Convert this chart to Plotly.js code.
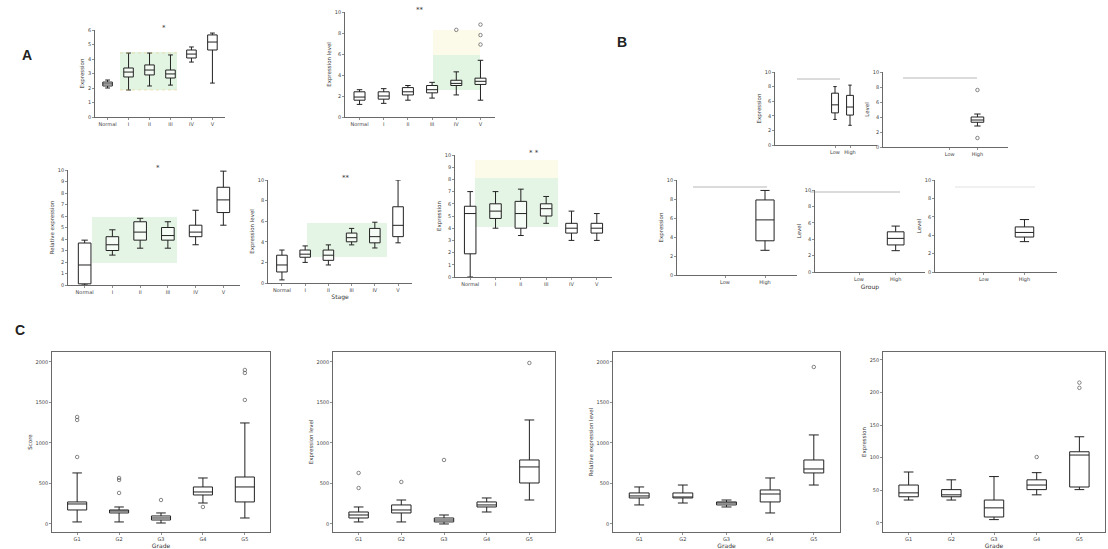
<!DOCTYPE html>
<html><head><meta charset="utf-8">
<script src="https://cdn.plot.ly/plotly-3.0.1.min.js"></script>
<style>html,body{margin:0;padding:0;background:#fff}#chart{width:1108px;height:549px}</style>
</head><body><div id="chart"></div>
<script>
// ---------- DATA ----------
const A_cats = ['Normal','I','II','III','IV','V'];
const A1_q1 = [2.14,2.76,2.90,2.69,4.07,4.62];
const A1_med = [2.28,3.10,3.24,2.97,4.34,5.17];
const A1_q3 = [2.41,3.38,3.59,3.24,4.62,5.66];
const A1_lo = [2.00,1.86,2.14,2.20,3.79,2.34];
const A1_hi = [2.55,4.41,4.41,4.28,4.83,5.79];

const A2_q1 = [1.6,1.7,2.1,2.3,3.0,3.1];
const A2_med = [1.9,2.0,2.4,2.6,3.2,3.4];
const A2_q3 = [2.4,2.4,2.8,3.0,3.5,3.7];
const A2_lo = [1.2,1.3,1.6,1.8,2.1,1.6];
const A2_hi = [2.6,2.7,3.0,3.3,4.3,5.4];
const A2_outCat = ['IV','V','V','V'];
const A2_outVal = [8.3,8.8,7.8,6.9];

const A3_q1 = [0.1,3.0,3.9,3.9,4.2,6.3];
const A3_med = [1.74,3.5,4.6,4.3,4.6,7.4];
const A3_q3 = [3.65,4.2,5.5,5.0,5.2,8.5];
const A3_lo = [0.0,2.6,3.2,3.2,3.5,5.2];
const A3_hi = [3.9,4.8,5.8,5.5,6.5,9.9];

const A4_q1 = [1.07,2.5,2.2,4.0,3.9,4.5];
const A4_med = [1.75,2.8,2.7,4.4,4.5,5.6];
const A4_q3 = [2.7,3.2,3.2,4.85,5.3,7.4];
const A4_lo = [0.3,2.0,1.75,3.7,3.4,3.9];
const A4_hi = [3.2,3.6,3.7,5.3,5.9,10.0];

const A5_q1 = [1.9,4.8,4.0,5.0,3.6,3.6];
const A5_med = [5.2,5.4,5.2,5.6,4.0,4.0];
const A5_q3 = [5.8,6.0,6.2,6.0,4.4,4.4];
const A5_lo = [0.0,4.0,3.4,4.4,3.0,3.0];
const A5_hi = [7.0,7.0,7.2,6.6,5.4,5.2];

const B1_cats = ['Low','High'];
const B1_q1 = [4.4,4.1]; const B1_med = [5.5,5.2]; const B1_q3 = [7.1,6.8];
const B1_lo = [3.5,2.7]; const B1_hi = [8.0,8.2];

const B2_cats = ['Low','High'];
const B2_boxCat = ['High'];
const B2_q1 = [3.3]; const B2_med = [3.6]; const B2_q3 = [4.0];
const B2_lo = [2.8]; const B2_hi = [4.4];
const B2_outCat = ['High','High']; const B2_outVal = [7.6,1.2];

const B3_cats = ['Low','High'];
const B3_boxCat = ['High'];
const B3_q1 = [3.6]; const B3_med = [5.8]; const B3_q3 = [7.9]; const B3_lo = [2.6]; const B3_hi = [8.9];
const B4_boxCat = ['High'];
const B4_q1 = [3.3]; const B4_med = [4.1]; const B4_q3 = [4.9]; const B4_lo = [2.6]; const B4_hi = [5.6];
const B5_boxCat = ['High'];
const B5_q1 = [3.8]; const B5_med = [4.3]; const B5_q3 = [4.9]; const B5_lo = [3.3]; const B5_hi = [5.7];

const C_cats = ['G1','G2','G3','G4','G5'];
const C1_q1 = [173,136,49,358,272];
const C1_med = [247,160,74,395,457];
const C1_q3 = [272,173,99,457,580];
const C1_lo = [25,25,12,259,74];
const C1_hi = [630,210,136,568,1247];
const C1_outCat = ['G1','G1','G1','G2','G2','G2','G3','G4','G5','G5','G5'];
const C1_outVal = [1321,1284,827,383,543,568,296,210,1531,1901,1864];

const C2_q1 = [74,136,25,210,506];
const C2_med = [111,173,49,235,704];
const C2_q3 = [148,235,74,272,790];
const C2_lo = [25,25,0,148,296];
const C2_hi = [210,296,111,321,1284];
const C2_outCat = ['G1','G1','G2','G3','G5'];
const C2_outVal = [444,630,519,790,1988];

const C3_q1 = [321,321,235,272,630];
const C3_med = [346,333,259,370,679];
const C3_q3 = [383,383,272,420,790];
const C3_lo = [235,259,210,136,481];
const C3_hi = [457,481,296,568,1099];
const C3_outCat = ['G5'];
const C3_outVal = [1938];

const C4_q1 = [40,40,9,51,55];
const C4_med = [46,43,23,58,104];
const C4_q3 = [58,51,35,66,109];
const C4_lo = [35,35,5,43,51];
const C4_hi = [78,66,71,77,132];
const C4_outCat = ['G4','G5','G5'];
const C4_outVal = [101,215,207];

// ---------- BUILD ----------
const W = 1108, H = 549;
const fx = p => p / W, fy = p => 1 - p / H;
const traces = [], layout = {
  width: W, height: H, margin: {l:0,r:0,t:0,b:0}, showlegend: false,
  paper_bgcolor: '#fff', plot_bgcolor: 'rgba(0,0,0,0)',
  font: {family: 'DejaVu Sans, Arial, sans-serif', size: 5, color: '#444'},
  boxgap: 0.35, shapes: [], annotations: []
};
let n = 0;
function panel(p) {
  n++;
  const xa = n === 1 ? 'x' : 'x' + n, ya = n === 1 ? 'y' : 'y' + n;
  const xk = n === 1 ? 'xaxis' : 'xaxis' + n, yk = n === 1 ? 'yaxis' : 'yaxis' + n;
  traces.push({
    type: 'box', xaxis: xa, yaxis: ya, x: p.bx || p.cats,
    q1: p.q1, median: p.med, q3: p.q3, lowerfence: p.lo, upperfence: p.hi,
    boxpoints: false, fillcolor: 'rgba(255,255,255,0.6)',
    line: {color: '#222', width: 1}, whiskerwidth: 0.5, hoverinfo: 'skip'
  });
  if (p.ox) traces.push({
    type: 'scatter', mode: 'markers', xaxis: xa, yaxis: ya, x: p.ox, y: p.oy,
    marker: {symbol: 'circle-open', size: 3.5, color: '#555', line: {width: 0.7}}, hoverinfo: 'skip'
  });
  const common = {showgrid: false, zeroline: false, showline: true, linecolor: '#444', linewidth: 0.8,
    ticks: 'outside', ticklen: 2, tickwidth: 0.6, tickcolor: '#444', mirror: !!p.frame,
    tickfont: {size: 5, color: '#444'}};
  layout[xk] = Object.assign({}, common, {domain: [fx(p.x0), fx(p.x1)], anchor: ya,
    type: 'category', categoryorder: 'array', categoryarray: p.cats,
    range: p.xr || [-0.6, p.cats.length - 0.4],
    title: {text: p.xt || '', font: {size: 6, color: '#333'}, standoff: 2}});
  layout[yk] = Object.assign({}, common, {domain: [fy(p.y1), fy(p.y0)], anchor: xa,
    range: p.yr, dtick: p.dt,
    title: {text: p.yt || '', font: {size: 5.5, color: '#333'}, standoff: 2}});
  if (p.sig) layout.annotations.push({xref: 'paper', yref: 'paper', x: fx((p.x0 + p.x1) / 2),
    y: fy(p.y0 - 8), text: p.sig, showarrow: false, font: {size: 7, color: '#333'}});
}
function rect(x0, y0, x1, y1, c) {
  layout.shapes.push({type: 'rect', xref: 'paper', yref: 'paper', x0: fx(x0), x1: fx(x1),
    y0: fy(y1), y1: fy(y0), fillcolor: c, line: {width: 0}, layer: 'below'});
}
function line(x0, y0, x1, y1, c, dash) {
  layout.shapes.push({type: 'line', xref: 'paper', yref: 'paper', x0: fx(x0), x1: fx(x1),
    y0: fy(y0), y1: fy(y1), line: {color: c || '#888', width: 0.6, dash: dash || 'solid'}});
}

// decorations (shaded regions)
rect(120, 52, 177, 90, 'rgba(190,230,190,0.45)');
line(120, 53, 177, 53, 'rgba(230,200,120,0.8)', 'dot');
line(120, 90, 177, 90, 'rgba(230,200,120,0.8)', 'dot');
rect(433, 55, 480, 90, 'rgba(190,230,190,0.45)');
rect(433, 30, 480, 55, 'rgba(250,245,210,0.5)');
rect(92, 217, 177, 263, 'rgba(190,230,190,0.4)');
rect(307, 223, 387, 257, 'rgba(190,230,190,0.4)');
rect(475, 178, 558, 227, 'rgba(190,230,190,0.4)');
rect(475, 160, 558, 178, 'rgba(250,245,210,0.5)');

// Panel A
panel({x0: 95, x1: 225, y0: 30, y1: 117, cats: A_cats, q1: A1_q1, med: A1_med, q3: A1_q3, lo: A1_lo, hi: A1_hi,
  yr: [0, 6], dt: 1, yt: 'Expression', sig: '*'});
panel({x0: 345, x1: 495, y0: 12, y1: 117, cats: A_cats, q1: A2_q1, med: A2_med, q3: A2_q3, lo: A2_lo, hi: A2_hi,
  ox: A2_outCat, oy: A2_outVal, yr: [0, 10], dt: 2, yt: 'Expression level', sig: '**'});
panel({x0: 68, x1: 240, y0: 170, y1: 285, cats: A_cats, q1: A3_q1, med: A3_med, q3: A3_q3, lo: A3_lo, hi: A3_hi,
  yr: [0, 10], dt: 1, yt: 'Relative expression', sig: '*'});
panel({x0: 268, x1: 412, y0: 180, y1: 283, cats: A_cats, q1: A4_q1, med: A4_med, q3: A4_q3, lo: A4_lo, hi: A4_hi,
  yr: [0, 10], dt: 2, yt: 'Expression level', xt: 'Stage', sig: '**'});
panel({x0: 455, x1: 612, y0: 155, y1: 277, cats: A_cats, q1: A5_q1, med: A5_med, q3: A5_q3, lo: A5_lo, hi: A5_hi,
  yr: [0, 10], dt: 1, yt: 'Expression', sig: '* *'});

// Panel B
panel({x0: 775, x1: 877, y0: 72, y1: 145, cats: B1_cats, q1: B1_q1, med: B1_med, q3: B1_q3, lo: B1_lo, hi: B1_hi,
  xr: [-4, 2.8], yr: [0, 10], dt: 2, yt: 'Expression'});
panel({x0: 883, x1: 1008, y0: 72, y1: 147, cats: B2_cats, bx: B2_boxCat, q1: B2_q1, med: B2_med, q3: B2_q3, lo: B2_lo, hi: B2_hi,
  ox: B2_outCat, oy: B2_outVal, xr: [-2.4, 2.1], yr: [0, 10], dt: 2, yt: 'Level'});
panel({x0: 677, x1: 797, y0: 180, y1: 275, cats: B3_cats, bx: B3_boxCat, q1: B3_q1, med: B3_med, q3: B3_q3, lo: B3_lo, hi: B3_hi,
  xr: [-1.2, 1.8], yr: [0, 10], dt: 2, yt: 'Expression'});
panel({x0: 815, x1: 925, y0: 190, y1: 272, cats: B3_cats, bx: B4_boxCat, q1: B4_q1, med: B4_med, q3: B4_q3, lo: B4_lo, hi: B4_hi,
  xr: [-1.2, 1.8], yr: [0, 10], dt: 2, yt: 'Level', xt: 'Group'});
panel({x0: 935, x1: 1057, y0: 180, y1: 272, cats: B3_cats, bx: B5_boxCat, q1: B5_q1, med: B5_med, q3: B5_q3, lo: B5_lo, hi: B5_hi,
  xr: [-1.2, 1.8], yr: [0, 10], dt: 2, yt: 'Level'});
line(797, 79, 840, 79); line(903, 78, 977, 78);
line(693, 187, 767, 187); line(810, 192, 900, 192); line(955, 187, 1035, 187, '#ccc');

// Panel C
panel({x0: 52, x1: 270, y0: 352, y1: 532, cats: C_cats, q1: C1_q1, med: C1_med, q3: C1_q3, lo: C1_lo, hi: C1_hi,
  ox: C1_outCat, oy: C1_outVal, yr: [-99, 2123], dt: 500, yt: 'Score', xt: 'Grade', frame: true});
panel({x0: 333, x1: 555, y0: 352, y1: 532, cats: C_cats, q1: C2_q1, med: C2_med, q3: C2_q3, lo: C2_lo, hi: C2_hi,
  ox: C2_outCat, oy: C2_outVal, yr: [-99, 2123], dt: 500, yt: 'Expression level', frame: true});
panel({x0: 613, x1: 840, y0: 352, y1: 532, cats: C_cats, q1: C3_q1, med: C3_med, q3: C3_q3, lo: C3_lo, hi: C3_hi,
  ox: C3_outCat, oy: C3_outVal, yr: [-99, 2123], dt: 500, yt: 'Relative expression level', xt: 'Grade', frame: true});
panel({x0: 883, x1: 1105, y0: 352, y1: 532, cats: C_cats, q1: C4_q1, med: C4_med, q3: C4_q3, lo: C4_lo, hi: C4_hi,
  ox: C4_outCat, oy: C4_outVal, yr: [-14, 262], dt: 50, yt: 'Expression', xt: 'Grade', frame: true});

// panel letters
[['A', 20, 45], ['B', 622, 32], ['C', 13, 330]].forEach(([t, x, y]) => layout.annotations.push({
  xref: 'paper', yref: 'paper', x: fx(x), y: fy(y), text: '<b>' + t + '</b>', showarrow: false,
  font: {size: 14, color: '#222', family: 'Liberation Sans, Arial, sans-serif'}}));

Plotly.newPlot('chart', traces, layout, {staticPlot: true, displayModeBar: false});
</script></body></html>
